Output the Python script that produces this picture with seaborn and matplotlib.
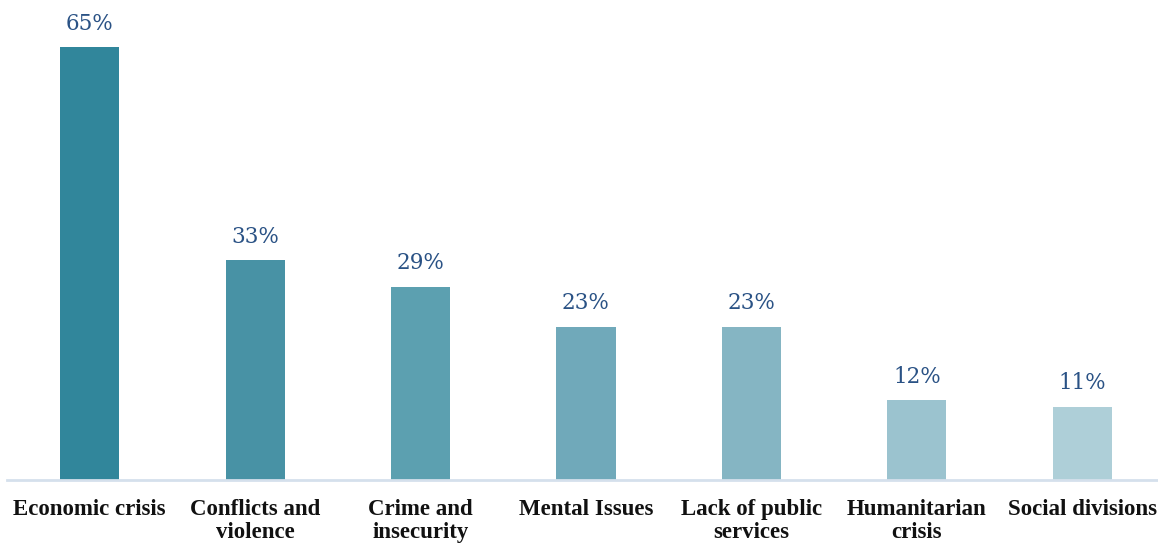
import matplotlib
matplotlib.use("Agg")
import matplotlib.pyplot as plt
import seaborn as sns
import pandas as pd

categories = [
    "Economic crisis",
    "Conflicts and\nviolence",
    "Crime and\ninsecurity",
    "Mental Issues",
    "Lack of public\nservices",
    "Humanitarian\ncrisis",
    "Social divisions",
]
values = [65, 33, 29, 23, 23, 12, 11]
bar_colors = ["#31869b", "#4892a5", "#5ca0b0", "#70a9ba", "#85b5c3", "#9bc3cf", "#aecfd8"]

sns.set_theme(style="white")
plt.rcParams["font.family"] = ["DejaVu Serif"]

df = pd.DataFrame({"category": categories, "value": values})

fig = plt.figure(figsize=(11.58, 5.44), dpi=100)
ax = fig.add_axes([7 / 1158, 64 / 544, 1158 / 1158, 480 / 544])

sns.barplot(data=df, x="category", y="value", hue="category", palette=bar_colors,
            width=0.357, legend=False, ax=ax, saturation=1, linewidth=0)

for container in ax.containers:
    ax.bar_label(container, labels=[f"{v:.0f}%" for v in container.datavalues],
                 padding=9, fontsize=15.5, color="#2a5285")

ax.set_ylim(0, 72.1)
ax.set_xlim(-0.5, 6.5)
ax.set_xlabel("")
ax.set_ylabel("")
ax.set_yticks([])
for side in ["top", "right", "left"]:
    ax.spines[side].set_visible(False)
ax.spines["bottom"].set_color("#d5e0ec")
ax.spines["bottom"].set_linewidth(2)
ax.tick_params(axis="x", length=0, pad=14, labelcolor="#111111")
for lbl in ax.get_xticklabels():
    lbl.set_fontfamily(["Liberation Serif"])
    lbl.set_fontsize(16.5)
    lbl.set_fontweight("bold")
    lbl.set_linespacing(1.08)

fig.savefig("out.png", dpi=100)
